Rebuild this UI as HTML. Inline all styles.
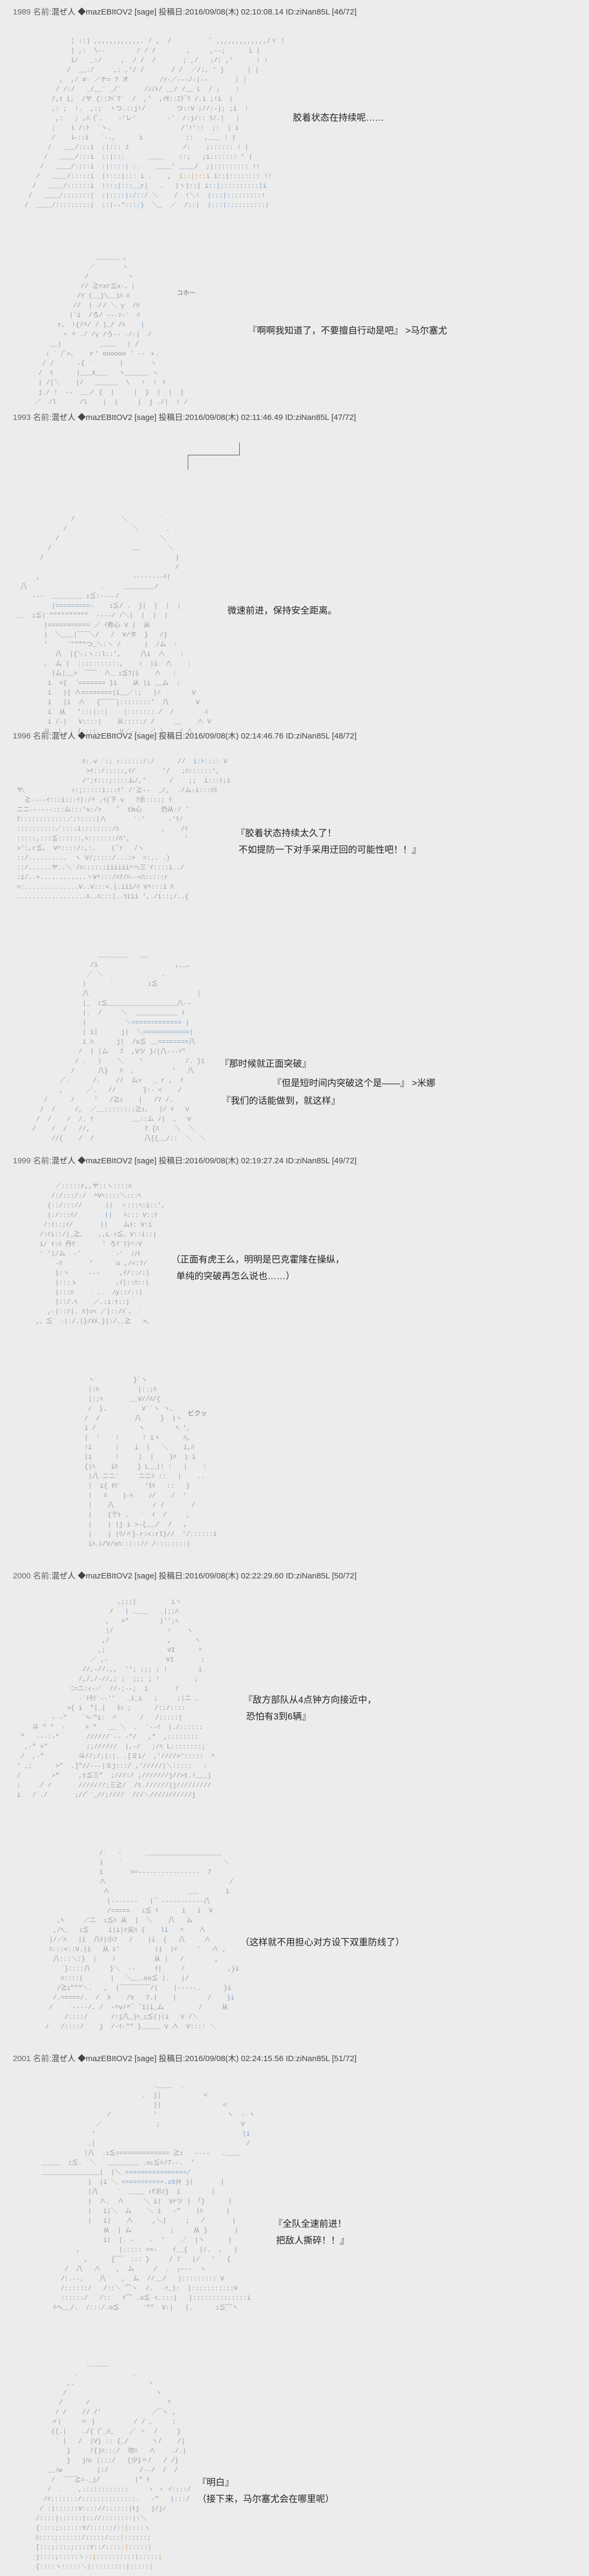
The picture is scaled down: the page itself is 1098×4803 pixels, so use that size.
<!DOCTYPE html>
<html><head><meta charset="utf-8">
<style>
html,body{margin:0;padding:0;}
body{width:1098px;height:4803px;background:#ececec;position:relative;overflow:hidden;font-family:"Liberation Sans","Noto Sans CJK SC",sans-serif;}
.h{position:absolute;left:24px;font-size:15px;color:#444;white-space:nowrap;line-height:18px;}
.h .g{color:#666;}
.t{position:absolute;font-size:17px;color:#222;white-space:pre;line-height:31px;font-family:"Liberation Sans","Noto Sans CJK SC",sans-serif;}
.a{position:absolute;margin:0;font-family:"Liberation Mono","Noto Sans CJK JP",monospace;font-size:12px;line-height:18px;color:#9a9a9a;white-space:pre;}
.a b{font-weight:normal;color:#7fa3c8;}
.a i{font-style:normal;color:#c9a070;}
.s{position:absolute;font-size:12px;color:#777;font-family:"Liberation Sans","Noto Sans CJK JP",sans-serif;}
</style></head><body>

<div class="h" style="top:14px"><span class="g">1989 名前:</span>混ぜ人 ◆mazEBItOV2 [sage] 投稿日:2016/09/08(木) 02:10:08.14 ID:ziNan85L [46/72]</div>
<div class="h" style="top:770px"><span class="g">1993 名前:</span>混ぜ人 ◆mazEBItOV2 [sage] 投稿日:2016/09/08(木) 02:11:46.49 ID:ziNan85L [47/72]</div>
<div class="h" style="top:1364px"><span class="g">1996 名前:</span>混ぜ人 ◆mazEBItOV2 [sage] 投稿日:2016/09/08(木) 02:14:46.76 ID:ziNan85L [48/72]</div>
<div class="h" style="top:2156px"><span class="g">1999 名前:</span>混ぜ人 ◆mazEBItOV2 [sage] 投稿日:2016/09/08(木) 02:19:27.24 ID:ziNan85L [49/72]</div>
<div class="h" style="top:2930px"><span class="g">2000 名前:</span>混ぜ人 ◆mazEBItOV2 [sage] 投稿日:2016/09/08(木) 02:22:29.60 ID:ziNan85L [50/72]</div>
<div class="h" style="top:3830px"><span class="g">2001 名前:</span>混ぜ人 ◆mazEBItOV2 [sage] 投稿日:2016/09/08(木) 02:24:15.56 ID:ziNan85L [51/72]</div>

<div class="t" style="left:546px;top:204px">胶着状态在持续呢……</div>
<div class="t" style="left:462px;top:601px">『啊啊我知道了，不要擅自行动是吧』 &gt;马尔塞尤</div>
<div class="t" style="left:424px;top:1123px">微速前进，保持安全距离。</div>
<div class="t" style="left:440px;top:1538px">『胶着状态持续太久了！
 不如提防一下对手采用迂回的可能性吧！！』</div>
<div class="t" style="left:410px;top:1968px">『那时候就正面突破』</div>
<div class="t" style="left:508px;top:2004px">『但是短时间内突破这个是——』 &gt;米娜</div>
<div class="t" style="left:413px;top:2037px">『我们的话能做到，就这样』</div>
<div class="t" style="left:319px;top:2333px">（正面有虎王么，明明是巴克霍隆在操纵，
  单纯的突破再怎么说也……）</div>
<div class="t" style="left:454px;top:3154px">『敌方部队从4点钟方向接近中，
 恐怕有3到6辆』</div>
<div class="t" style="left:448px;top:3606px">（这样就不用担心对方设下双重防线了）</div>
<div class="t" style="left:510px;top:4131px">『全队全速前进！
 把敌人撕碎！！』</div>
<div class="t" style="left:368px;top:4613px">『明白』
（接下来，马尔塞尤会在哪里呢）</div>

<div class="s" style="left:329px;top:537px">コホー</div>
<div class="s" style="left:350px;top:2626px">ビクッ</div>

<!-- bracket -->
<div style="position:absolute;left:446px;top:825px;width:1px;height:24px;background:#555"></div>
<div style="position:absolute;left:350px;top:848px;width:97px;height:1px;background:#555"></div>
<div style="position:absolute;left:350px;top:848px;width:1px;height:28px;background:#555"></div>

<pre class="a" style="left:24px;top:68px">               <b>¦</b> ::) ,,,,,,,,,,,,.´/ ,  /         `゛,,,,,,,,,,,,,/ヾ <b>!</b>
               | ,:  \-‐        / / /        ,     ,‐‐;      <b>i |</b>
               i/   _:/     ,  / /  /       ; ,/   ;/: ,'      <b>! !</b>
              /  __:/     ,: ,'/ /       / /  ／/:, ' }      <b>| |</b>
            ,  ,/ ≠‐ ／ナ= 7 オ        /ｧ‐／‐‐‐/‐|‐‐       <i>| |</i>
           / /:/   _/__´ _/`      /ﾉ/ﾄ/ __/ /__ L  / ;    <i>!</i>
          /,ｲ i;  /ヤ {::ﾌﾍﾞﾏ`  /  ,'  ,ｲｾ::ｴﾗ¯ﾘ /.i ;!i  <i>|</i>
          ,: ;  !.  ,:;  ヽつ.::j!/        つ::V ;//:-|; ;i  <i>!</i>
           ,:   ; ,ﾊ (ﾟ.    ‐'レ'        ‐'  /:j/:: ﾘ/.|   <i>|</i>
          ;    i /:ﾄ  `ヽ.                  /'!'::  ;:  | i
          /    レ::i   `‐.,      i           ;:   ,___ ! |
         /   ___/:::i  <b>:|::: J</b>              /:    ;:::::: <b>! |</b>
        /   ____/:::i  <b>::|:::</b>      ____    ::;   ;i::::::: ' |
       /   ____/::::i  <b>:|::::|</b>`:.    ____' ____/  ;|::::::::: !!
      /   ____/:::::i  <b>|!:::|:::</b> i .    ,  <i>i::|:::i</i> <b>i::|:::::::: !!</b>
     /   ____/::::::i  <b>!!::|:::__r|</b>   .   |ヽ|::| <b>i::|::::::::::|i</b>
    /   ____/:::::::|  <b>:|::::|:/::/</b> ＼    /  !＼!  <b>|:::|:::::::::!</b>
   /  ____/:::::::::|  <b>::|‐‐"::::}</b>  ＼_  ／  /::|  <b>|:::|::::::::::|</b></pre>

<pre class="a" style="left:57px;top:471px">                 ______ 、
               ／       ヽ
              /          ヽ
             // ≧=xr≦x-、<i>|</i>
            /Y´(__)\__)ﾊ ﾊ
           //  | ノ/ ＼ y  /ﾊ
          |`i  /ろ/ ‐‐‐ｧ‐´  ﾊ
       r、 !{/^/ / )_/ /ﾊ    <b>|</b>
        ヽ ^ ./ /y /う‐‐ ./:|  /
     __<b>|</b>          ____   <i>|</i> /
    ｨ ´ /ﾞ>、   ｒ' oooooo ' ‐‐ ゝ.
   / /      ‐{ `       <b>|</b>       ヽ
  /  ｲ      |___X___   ヽ______ ヽ
  | /|＼    |/   ______  \   !  ! ヾ
  j./ !  ‐-  __ノ {  |     |  }  |  |  )
 ／  /l      /l    |  |     |  j ./|  ! /</pre>

<pre class="a" style="left:24px;top:959px">               /            ＼        `
             /                 ＼       .
           /                          ＼
         /                     __       ＼
       /                                  )
                                          /
      ,                        -‐‐‐‐‐‐‐ｲ<i>|</i>
  八                   .     ________/
    `‐‐‐  ________ ｪ≦:‐‐‐‐/
          <b>|=========</b>-    ｪ≦/ .  j|  |  <i>|  |</i>
 __  ｪ≦|`""""""""""  ‐‐‐‐/ /＼|  |  |  <i>|</i>
        |=========== ／ ｲ祢心 V |  从
        |  ＼___|¯¯¯＼/   /  V/タ  }   /}
        '     `""""つ_＼:ヽ /      |  /ム  :
           八  |{＼:ヽ::l::',     八i  ∧    :
        ,  ム |  :::::::::::,    ｨ  |i  ∧    :
          |ム|__>  ¯¯¯  ∧_ ｪ≦ﾌ|i    ∧   :
         i  <{  `======= }i    从 |i __ム  :
         i   |{ ∧========|i__／:;   |/        V
         i   |i  ∧   {¯¯¯¯|::::::::'  八       V
         i  从   ':::|::|    |::::::: /  /        ﾊ
         i /‐|   V::::|    从:::::/ /     __    ∧ V
        从  |    {::::,     V／‐‐.  ／_).   / ∧</pre>

<pre class="a" style="left:24px;top:1411px">                  ﾊ:.v ´:; ｨ::::::/:/      //  <b>i:ﾄ:::: V</b>
                   >ｲ::/:::::,ｲ/       '/   ;ﾊ::::::',
                  /';ｲ:::;::::ム/,'      /    ;;  i:::ﾄ;i
 ヤ、           ｨ:;:::::i:::ｲ' /'≧‐‐  _/,  ./ム‐i:::ﾊﾘ
   ≧‐‐‐‐ｲ:::i:::ｲ|:/^ ,ｲ(下 v   ｱ示::::; ﾘ
 ニニ‐‐‐‐‐‐:::ム:::'v:/>    ゜ tb心     仍从:/ '
 ｱ::::::::::::／:!::::|∧       `‐'      ‐'ﾘ/
 ::::::::::／::::i::::::::/ﾊ           ,    /ｲ
 :::::,:::≦::::::,ﾍ:::::::/ﾊ',              '
 >':,r≦､  V^::::/:,:.    (¯ｧ   /ヽ
 ::/..........  ヽ V/;::::/...:>  <:.. .)
 ::/......ヤ..＼`/ﾊ:::::;iiiiii^ヘ三`ｲ::::i../
 :i/..>............ヽV^:::/ﾊ7/ﾊ‐‐<ﾊ:::::r
 >:..............V..V:::<.|.iii/ﾊ V^:::i ﾊ
 ..................ﾊ..ﾊ:::|..ﾘiii ',./i::;/..{</pre>

<pre class="a" style="left:24px;top:1772px">                      ________   __
                    /i                    ,__、
                   ／ ＼               .
                  <b>|</b>      `         ｪ≦
                  八                            <i>|</i>
                  |_  ｪ≦__________________八‐‐
                  |.  /     ＼  ___________ ｲ
                  |          ＼<b>============= |</b>
                  | <b>i|</b>      j|  ＼<b>============|</b>
                  i ﾊ      j|  /x≦ __<b>========</b>八
                 /  | |ム   7  ,Vツ }ﾉ|八‐‐‐ｧ"
                / .   |    ＼    '           /. }i
               /      八}   ﾊ  、         '   八
            ／.      /.    //  ム>   _ r ,  ｲ
            ,      ／.   //       }:‐ <    /
        /      /     '   /≧ｪ    |   /7 /.
       /  /     /,  ／__<b>::::::::</b>≧ｪ、  |/ ｲ   V
      /  /    /  /. ｲ          __::ム /|  、  V
     /    /  /   //,              7 {ﾊ    ＼  ＼
          //{    /  /             八{{__/::  ＼  ＼</pre>

<pre class="a" style="left:45px;top:2203px">        ／:::::r,,ヤ::ヽ::::ﾊ
       /:/:::/:/  ^Vﾍ::::＼:::ﾍ
      {::/::://      <b>||</b>  ヽ:::ﾍ:i::',
      |:/:::ｲ/       <b>||</b>   ﾍ::: V::ﾘ
     /:ｲ::;ｲ/       <b>||</b>    ムﾄ: V:i
    /:ｲi::/|_≧、   ,,L‐ｯ≦、V::i::|
    i/ ｲ:ﾊ 丹ﾘ`      ' ろﾘ`ﾌ)^:V
    ' '|/ム  ‐'        `‐'  ﾉﾉﾄ
        ‐ﾊ       '      u ,/=:7/
        }:ヽ     ‐‐‐     ,ｲ/::/:|
        |:::ゝ          ,ｲ|::ﾊ::|
        |:::ﾊ    ´ ..  ﾉy::/::|
        |::/.ﾍ    ／.:i:ﾄ::|
      ,‐|::/|. ﾊ)=ﾍ ／|::/ﾊﾞ、 `
   ,、≦´ ‐|:/.|}/ﾒﾒ.}|:/..≧   >、</pre>

<pre class="a" style="left:150px;top:2564px">  ヽ          }`ヽ
  <b>|</b>:ﾊ          |::;ﾊ
  |:;ﾍ       __V//ﾊ/{
  ﾉ  }.     `   V``ヽ ヽ、
 /  /         八     }  )ヽ
 i /           ヽ        ﾍ ',
 |  '    <i>!</i>      ! iヽ      ﾊ,
 !i      <i>|</i>    i  |   ＼    i,ﾊ
 <b>|</b>i      <i>!</i>     <b>|  |</b>    }ﾊ  ) i
 {|ﾍ    iﾊ     ] L__|! :   <b>|</b>    :
  |八 ニニ`    `ニニﾘ ::   <b>|</b>    ..
  <b>|</b>  i{ ﾓﾘ`      'ﾓﾘ   ::   }
  |   ﾊ    )‐ﾍ    ﾉ/    /  '
  |    八          / /       /
  |    {个ﾄ .   `  ｲ  /     ,
  |    | |j i >‐{__ノ  /   ,
  |    | |ﾘﾉ〃}‐</:/    /‐..
  |    |ｲ/´:::>r:<:rl}//  '/::::::i
  iﾊ.ﾚ/V/oﾊ:::::// /::::::::|</pre>

<pre class="a" style="left:24px;top:2978px">                           ,;;;|         iヽ
                         /   <b>|</b> .___   .|;;ﾊ
                        ,   >"       `|'';ﾍ
                        <i>|</i>/              !    ヽ
                       ,/               ,      ヽ
                      ,;                VI      ^
                    ／ ,‐               VI       ;
                  //,‐//.,,  ''; ;;; ; !        <b>i</b>
                 /,/,/‐//,; ;  ;;; ; !         ;
              `ﾆ=ニ:ｨ‐／  //‐;‐‐;  i       ｲ
                 ‐`ﾄﾓﾘ`‐‐''   _i_i   ;     ;|ニ`、
              >{ i  "|_|   ﾓｯ`;      /::/::::
          ‐ ‐"    `ﾍ‐"i:  ^      /   /;::::|
     斗 " "  ‐     > "   __ ＼  .  `‐‐ｲ  |./::::::
  "   ‐‐‐:‐"       //////`‐‐ ‐"/   ,"  ,::::::::
   ,‐" >"          ;;//////  |,‐/   ;/ﾍ L::::::::;`
  /  ,‐"         斗//;/;|:|. .[ミi/  ,'////>':::::  ^
 ' ,;      >"  .]"//‐‐‐|ミj:::/ ,'/////|＼:::::   ;
 /        >"     ,t≦三"  ;///:/ ;///////j//>t.!___)
 ;    ./ /       ///////;三≧/  /t.//////|j/////////
 i   / ./       ;//ﾞ`_//;////  ///＼////ﾉ//////j</pre>

<pre class="a" style="left:70px;top:3446px">                ﾉ`   ‐      ____________________
                <b>i</b>    `                          ＼
                <b>i</b>       >=‐‐‐‐‐‐‐‐‐‐‐‐‐‐‐‐  7
                ∧                                /
                 ∧                    ___       <b>i</b>
                  (‐‐‐‐‐‐‐   |¯ ‐‐‐‐‐‐‐‐‐‐‐八
                  /=====   ｪ≦ ﾄ      <b>i</b>   <b>i</b>  V
     ,ﾍ     ／ニ  ｪ≦ﾊ 从  <b>|</b>  ＼    八   ム
    ,/ﾍ_   ｪ≦     i|i|r尖ﾊ {    <b>li</b>   ^    ∧
   |/／ﾊ   |i  八ﾘ|小7   ﾉ    |i  {   八     ∧
   ﾊ:::<::V.|i   从 ﾚ'         |i  |ｲ     '   ∧ ,
    八:::＼:}  <i>|</i>    ﾉ          从 <i>|</i>   /        ,
      `}::::八     }＼  ‐‐     ｲ|     /           ,}i
      ﾊ::::(       |   ＼__.oo≦ |.   |/
     /≧ｪ"""＼.   ,  |¯¯¯¯¯¯¯¯/|    |‐‐‐‐‐.      }i
    /.=====/.  /  λ    /V   7.|    |        /    <b>}i</b>
   /    `‐‐‐‐/. /  ‐^v/^¯ ¯i|i_ム         /     从
       /::::/      /:j八_)ﾍ_ｪ≦()|i   V /＼
  /   /::::/    j  /‐ｲ‐"" }_____ V ∧  V:::: ＼</pre>

<pre class="a" style="left:70px;top:3880px">                              .____  .
                           .  <b>j|</b>           <
                              <b>j|</b>                <
                  /           '                  ヽ  ‐ ヽ
               ／              ;                     V
              '                                      <b>|i</b>
             .|                                       /
            <i>|</i>八  .ｪ≦============== ≧ｪ   ‐‐‐‐   .____
 _____  ｪ≦.  ＼   ________ .oｪ≦=/7‐‐.  '
 _______________|  |＼ <b>================</b>/
             |  |i ＼ <b>===========.oS</b>廾 j|       |
             |八     `  ____ ｨf示ﾐ}  i        |
             |  ∧.  ∧     ＼ i|  Vrツ | 「}      |
             |   i|＼  ム    ＼ i   ‐"    |ﾊ      |
             |   i|    ∧     ,＼|     ;   /       |
                 从  | ム          ;     从 }       |
                 i|  |. ‐    ‐  '    ／  |ヽ      |
          ,          |::::: >=‐    ｲ__{   |/.  ,   |
            ,      {¯¯  ::: }     / 7   |/   '   {
       /  八   ∧    ,  ム     /  .  ┌‐‐‐  ヽ
      /:.‐‐,    八    ,  ム  //__/   |::::::::: V
      /::::::/   /::＼ ⌒ヽ  /.  ‐ｧ_):  |:::::::::::V
      ::::::/   /::   ｲ⌒ .o≦ <.:::|   |::::::::::::::i
    ｲヘ__/.  /:::/.o≦      `""  V:|   |.      ｪ≦⌒ヽ</pre>

<pre class="a" style="left:45px;top:4399px">                ._____
             .              .
           ,.                   ヽ
          /                       ヽ
         /      /                    ^
        / /    // /'             ／¯ヽ ,
       〃<b>|</b>     〃 )          / / ,     ;
       {{.|    ./{ (ﾞ_ﾊ_    ／ ヽ  /     }
        ` <b>|</b>   /  |V} :: {_/      ヽ/    /|
           }     /{)ﾊ:::/  勿ﾊ   ∧    ./.|
           }   jﾊﾚ |:::/   {少}〃/   / /}
      __ﾉw         |:/        /‐‐/  /  /
       /  ¯¯¯≧=‐_j/         (" ｲ
      /  .  ` ,::::::::::::     ヽ ヽ ｲ::::/
     /ｲ:::::::/::::::::::::::.   ‐"   <b>|</b>:::/
    / :<b>|</b>::::::V:::://::::::|ﾄj   j/j/
   /::::<b>|</b>::::::|:://::::::::<i>|</i>:＼
   {::::;::::::Y/::::::/::<i>|</i>::::ヽ
   ﾊ::::;::::::/:::::/:::<i>|</i>::::::;
   [:::;::::;::::Y::/:::::<i>|</i>:::::<i>|</i>
   j::::;:::::ヽ::<i>|</i>::::::::::<i>|</i>:::::<i>|</i>
   {::::ヽ:::::＼<i>|</i>:::::::::<b>|</b>:::::<i>|</i></pre>

</body></html>
